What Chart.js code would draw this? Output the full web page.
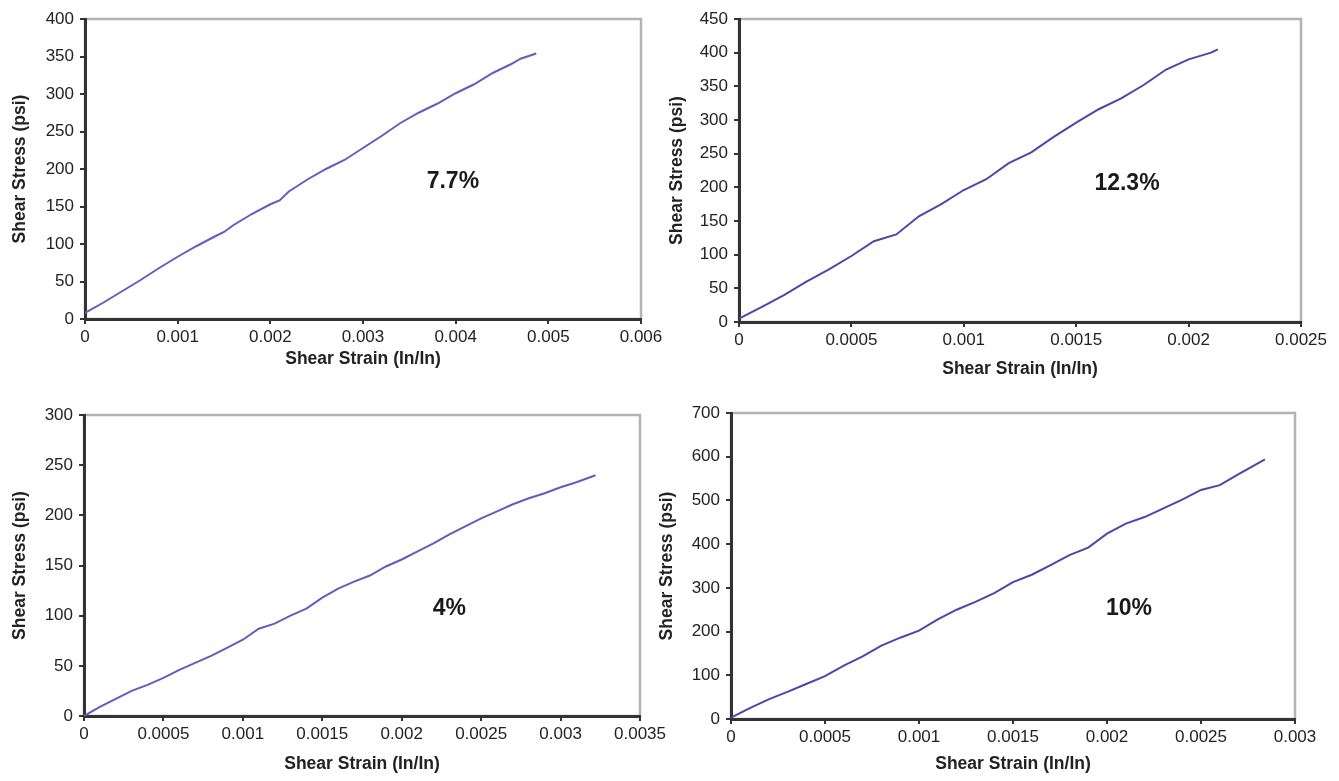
<!DOCTYPE html>
<html lang="en">
<head>
<meta charset="UTF-8">
<title>Shear Stress vs Shear Strain</title>
<script src="https://cdn.jsdelivr.net/npm/chart.js@4.4.0/dist/chart.umd.min.js"></script>
<style>
    body {
        margin: 0;
        background: #fff;
        width: 1339px;
        height: 781px;
        position: relative;
        overflow: hidden;
    }
    canvas {
        position: absolute;
    }
</style>
</head>
<body>
<canvas id="c1" width="670" height="385" style="left:0px;top:0px"></canvas>
<canvas id="c2" width="679" height="390" style="left:660px;top:0px"></canvas>
<canvas id="c3" width="670" height="391" style="left:0px;top:390px"></canvas>
<canvas id="c4" width="684" height="391" style="left:655px;top:390px"></canvas>

<script>
    // panel 1 - 7.7%
    var strain1 = [0, 0.0002, 0.0004, 0.0006, 0.0008, 0.001, 0.0012, 0.0014, 0.0015, 0.0016, 0.0018, 0.002, 0.0021, 0.0022, 0.0024,
        0.0026, 0.0028, 0.003, 0.0032, 0.0034, 0.0036, 0.0038, 0.004, 0.0042, 0.0044, 0.0046, 0.0047, 0.00487];
    var stress1 = [8, 22, 37, 52, 68, 83, 97, 110, 116, 125, 140, 153, 158, 170, 186,
        200, 212, 228, 244, 261, 275, 287, 301, 313, 328, 340, 347, 354];

    // panel 2 - 12.3%
    var strain2 = [0, 0.0001, 0.0002, 0.0003, 0.0004, 0.0005, 0.0006, 0.0007, 0.0008, 0.0009, 0.001, 0.0011, 0.0012,
        0.0013, 0.0014, 0.0015, 0.0016, 0.0017, 0.0018, 0.0019, 0.002, 0.0021, 0.00213];
    var stress2 = [5, 22, 40, 60, 78, 98, 120, 130, 157, 175, 196, 212, 236,
        252, 275, 296, 316, 332, 352, 375, 390, 400, 405];

    // panel 3 - 4%
    var strain3 = [0, 0.0001, 0.0002, 0.0003, 0.0004, 0.0005, 0.0006, 0.0007, 0.0008, 0.0009, 0.001, 0.0011, 0.0012,
        0.0013, 0.0014, 0.0015, 0.0016, 0.0017, 0.0018, 0.0019, 0.002, 0.0021, 0.0022, 0.0023, 0.0024, 0.0025,
        0.0026, 0.0027, 0.0028, 0.0029, 0.003, 0.0031, 0.00322];
    var stress3 = [0, 9, 17, 25, 31, 38, 46, 53, 60, 68, 76, 87, 92,
        100, 107, 118, 127, 134, 140, 149, 156, 164, 172, 181, 189, 197,
        204, 211, 217, 222, 228, 233, 240];

    // panel 4 - 10%
    var strain4 = [0, 0.0001, 0.0002, 0.0003, 0.0004, 0.0005, 0.0006, 0.0007, 0.0008, 0.0009, 0.001, 0.0011, 0.0012,
        0.0013, 0.0014, 0.0015, 0.0016, 0.0017, 0.0018, 0.0019, 0.002, 0.0021, 0.0022, 0.0023, 0.0024, 0.0025,
        0.0026, 0.0027, 0.0028, 0.00284];
    var stress4 = [3, 25, 45, 62, 80, 98, 122, 143, 168, 186, 202, 228, 250,
        268, 288, 313, 330, 352, 375, 392, 424, 447, 462, 482, 502, 524,
        535, 560, 584, 594];

    // axis ranges [max, step]
    var xAxis1 = [0.006, 0.001], yAxis1 = [400, 50];
    var xAxis2 = [0.0025, 0.0005], yAxis2 = [450, 50];
    var xAxis3 = [0.0035, 0.0005], yAxis3 = [300, 50];
    var xAxis4 = [0.003, 0.0005], yAxis4 = [700, 100];

    var panelLabels = ['7.7%', '12.3%', '4%', '10%'];
    // where the percentage text sits, in data units [strain, stress]
    var labelPos = [[0.00397, 183], [0.001726, 206], [0.0023, 107], [0.002117, 252]];

    var xTitle = 'Shear Strain (In/In)';
    var yTitle = 'Shear Stress (psi)';

    var tickFont = { family: '"Liberation Sans", Arial, sans-serif', size: 17 };
    var titleFont = { family: '"Liberation Sans", Arial, sans-serif', size: 17.5, weight: 'bold' };
    var axisColor = '#333';

    // gray frame on top/right plus the percentage label
    var framePlugin = {
        id: 'frame',
        beforeDraw: function (chart) {
            var a = chart.chartArea, ctx = chart.ctx;
            ctx.save();
            ctx.strokeStyle = '#b3b3b3';
            ctx.lineWidth = 2.5;
            ctx.strokeRect(a.left, a.top, a.right - a.left, a.bottom - a.top);
            ctx.restore();
        },
        afterDatasetsDraw: function (chart, args, opts) {
            var ctx = chart.ctx;
            var x = chart.scales.x.getPixelForValue(opts.at[0]);
            var y = chart.scales.y.getPixelForValue(opts.at[1]);
            ctx.save();
            ctx.font = 'bold 23px "Liberation Sans", Arial, sans-serif';
            ctx.fillStyle = '#1a1a1a';
            ctx.textAlign = 'center';
            ctx.textBaseline = 'middle';
            ctx.fillText(opts.text, x, y);
            ctx.restore();
        }
    };

    function fmt(v) {
        if (Math.abs(v) < 1e-12) return '0';
        return String(parseFloat(v.toFixed(6)));
    }

    function makeChart(id, strain, stress, xa, ya, idx, color, box) {
        var points = strain.map(function (s, i) { return { x: s, y: stress[i] }; });
        var ctx = document.getElementById(id).getContext('2d');
        return new Chart(ctx, {
            type: 'line',
            data: {
                datasets: [{
                    data: points,
                    borderColor: color,
                    borderWidth: 2,
                    pointRadius: 0,
                    tension: 0,
                    fill: false
                }]
            },
            plugins: [framePlugin],
            options: {
                responsive: false,
                animation: false,
                events: [],
                layout: { padding: box.pad },
                plugins: {
                    legend: { display: false },
                    tooltip: { enabled: false },
                    frame: { text: panelLabels[idx], at: labelPos[idx] }
                },
                scales: {
                    x: {
                        type: 'linear',
                        position: 'bottom',
                        min: 0,
                        max: xa[0],
                        afterFit: function (s) { s.height = box.xHeight; },
                        afterBuildTicks: function (s) {
                            var t = [];
                            for (var i = 0; i * xa[1] <= xa[0] + 1e-9; i++) t.push({ value: i * xa[1] });
                            s.ticks = t;
                        },
                        border: { display: true, color: axisColor, width: 3 },
                        grid: { drawOnChartArea: false, drawTicks: true, tickLength: 5, color: axisColor, lineWidth: 2 },
                        ticks: { font: tickFont, color: '#222', padding: 3, maxRotation: 0, autoSkip: false, callback: fmt },
                        title: { display: true, text: xTitle, font: titleFont, color: '#222', padding: { top: 0, bottom: box.xTitlePad } }
                    },
                    y: {
                        type: 'linear',
                        min: 0,
                        max: ya[0],
                        afterFit: function (s) { s.width = box.yWidth; },
                        border: { display: true, color: axisColor, width: 3 },
                        grid: { drawOnChartArea: false, drawTicks: true, tickLength: 5, color: axisColor, lineWidth: 2 },
                        ticks: { stepSize: ya[1], font: tickFont, color: '#222', padding: 6, autoSkip: false },
                        title: { display: true, text: yTitle, font: titleFont, color: '#222', padding: { top: box.yTitlePad, bottom: 0 } }
                    }
                }
            }
        });
    }

    makeChart('c1', strain1, stress1, xAxis1, yAxis1, 0, '#5f5fbd',
        { pad: { left: 0, top: 19, right: 29, bottom: 0 }, yWidth: 85, xHeight: 66, xTitlePad: 15, yTitlePad: 10 });
    makeChart('c2', strain2, stress2, xAxis2, yAxis2, 1, '#4848aa',
        { pad: { left: 0, top: 19, right: 38, bottom: 0 }, yWidth: 79, xHeight: 68, xTitlePad: 10, yTitlePad: 7 });
    makeChart('c3', strain3, stress3, xAxis3, yAxis3, 2, '#5f5fbd',
        { pad: { left: 0, top: 25, right: 30, bottom: 0 }, yWidth: 84, xHeight: 65, xTitlePad: 6, yTitlePad: 10 });
    makeChart('c4', strain4, stress4, xAxis4, yAxis4, 3, '#4848aa',
        { pad: { left: 0, top: 23, right: 44, bottom: 0 }, yWidth: 76, xHeight: 62, xTitlePad: 6, yTitlePad: 2 });
</script>
</body>
</html>
